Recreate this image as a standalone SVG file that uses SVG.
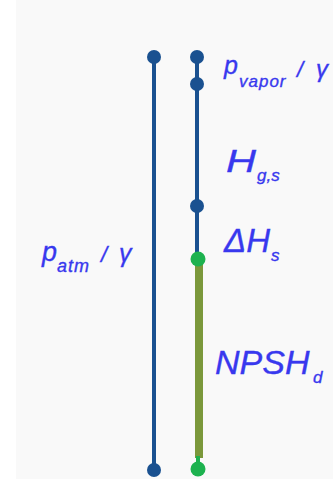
<svg xmlns="http://www.w3.org/2000/svg" width="333" height="479" viewBox="0 0 333 479">
<style>
.t{font-family:"Liberation Sans",Arial,sans-serif;font-style:italic;fill:#3838ee;stroke:#3838ee;stroke-width:0.35}
.blue{stroke:#1a5190;stroke-width:4;fill:none}
.bdot{fill:#1a5190}
.gdot{fill:#1db24f}
</style>
<rect x="0" y="0" width="333" height="479" fill="#ffffff"/>
<rect x="16" y="0" width="317" height="479" fill="#f9f9f9"/>
<g id="connectors">
<line class="blue" x1="154" y1="57" x2="154" y2="470"/>
<line class="blue" x1="197" y1="57" x2="197" y2="259"/>
<rect x="195" y="262" width="8" height="196" fill="#7b983b"/>
<line x1="198" y1="456" x2="198" y2="469" stroke="#1db24f" stroke-width="4"/>
</g>
<g id="atm-top"><circle class="bdot" cx="154" cy="57" r="7"/></g>
<g id="atm-bottom"><circle class="bdot" cx="154" cy="470" r="7"/></g>
<g id="right-top"><circle class="bdot" cx="197" cy="57" r="7"/></g>
<g id="vapor"><circle class="bdot" cx="197" cy="84" r="7"/></g>
<g id="hgs"><circle class="bdot" cx="197" cy="206" r="7"/></g>
<g id="dhs"><circle class="gdot" cx="198" cy="259" r="7.5"/></g>
<g id="bottom-green"><circle class="gdot" cx="198" cy="469" r="7.5"/></g>
<g id="labels">
<text class="t" x="224" y="74" font-size="25">p</text>
<text class="t" x="239" y="87" font-size="17" letter-spacing="1">vapor</text>
<text class="t" x="297" y="77" font-size="22">/</text>
<text class="t" x="316" y="77" font-size="24">γ</text>
<text class="t" x="42" y="261" font-size="27">p</text>
<text class="t" x="57" y="272" font-size="18" letter-spacing="1">atm</text>
<text class="t" x="101" y="262" font-size="22">/</text>
<text class="t" x="119" y="262" font-size="25">γ</text>
<text class="t" x="226" y="172" font-size="32" textLength="30" lengthAdjust="spacingAndGlyphs">H</text>
<text class="t" x="257" y="181" font-size="17">g,s</text>
<text class="t" x="224" y="252" font-size="33">ΔH</text>
<text class="t" x="271" y="261" font-size="17">s</text>
<text class="t" x="215" y="374" font-size="34">NPSH</text>
<text class="t" x="313" y="383" font-size="17">d</text>
</g>
</svg>
